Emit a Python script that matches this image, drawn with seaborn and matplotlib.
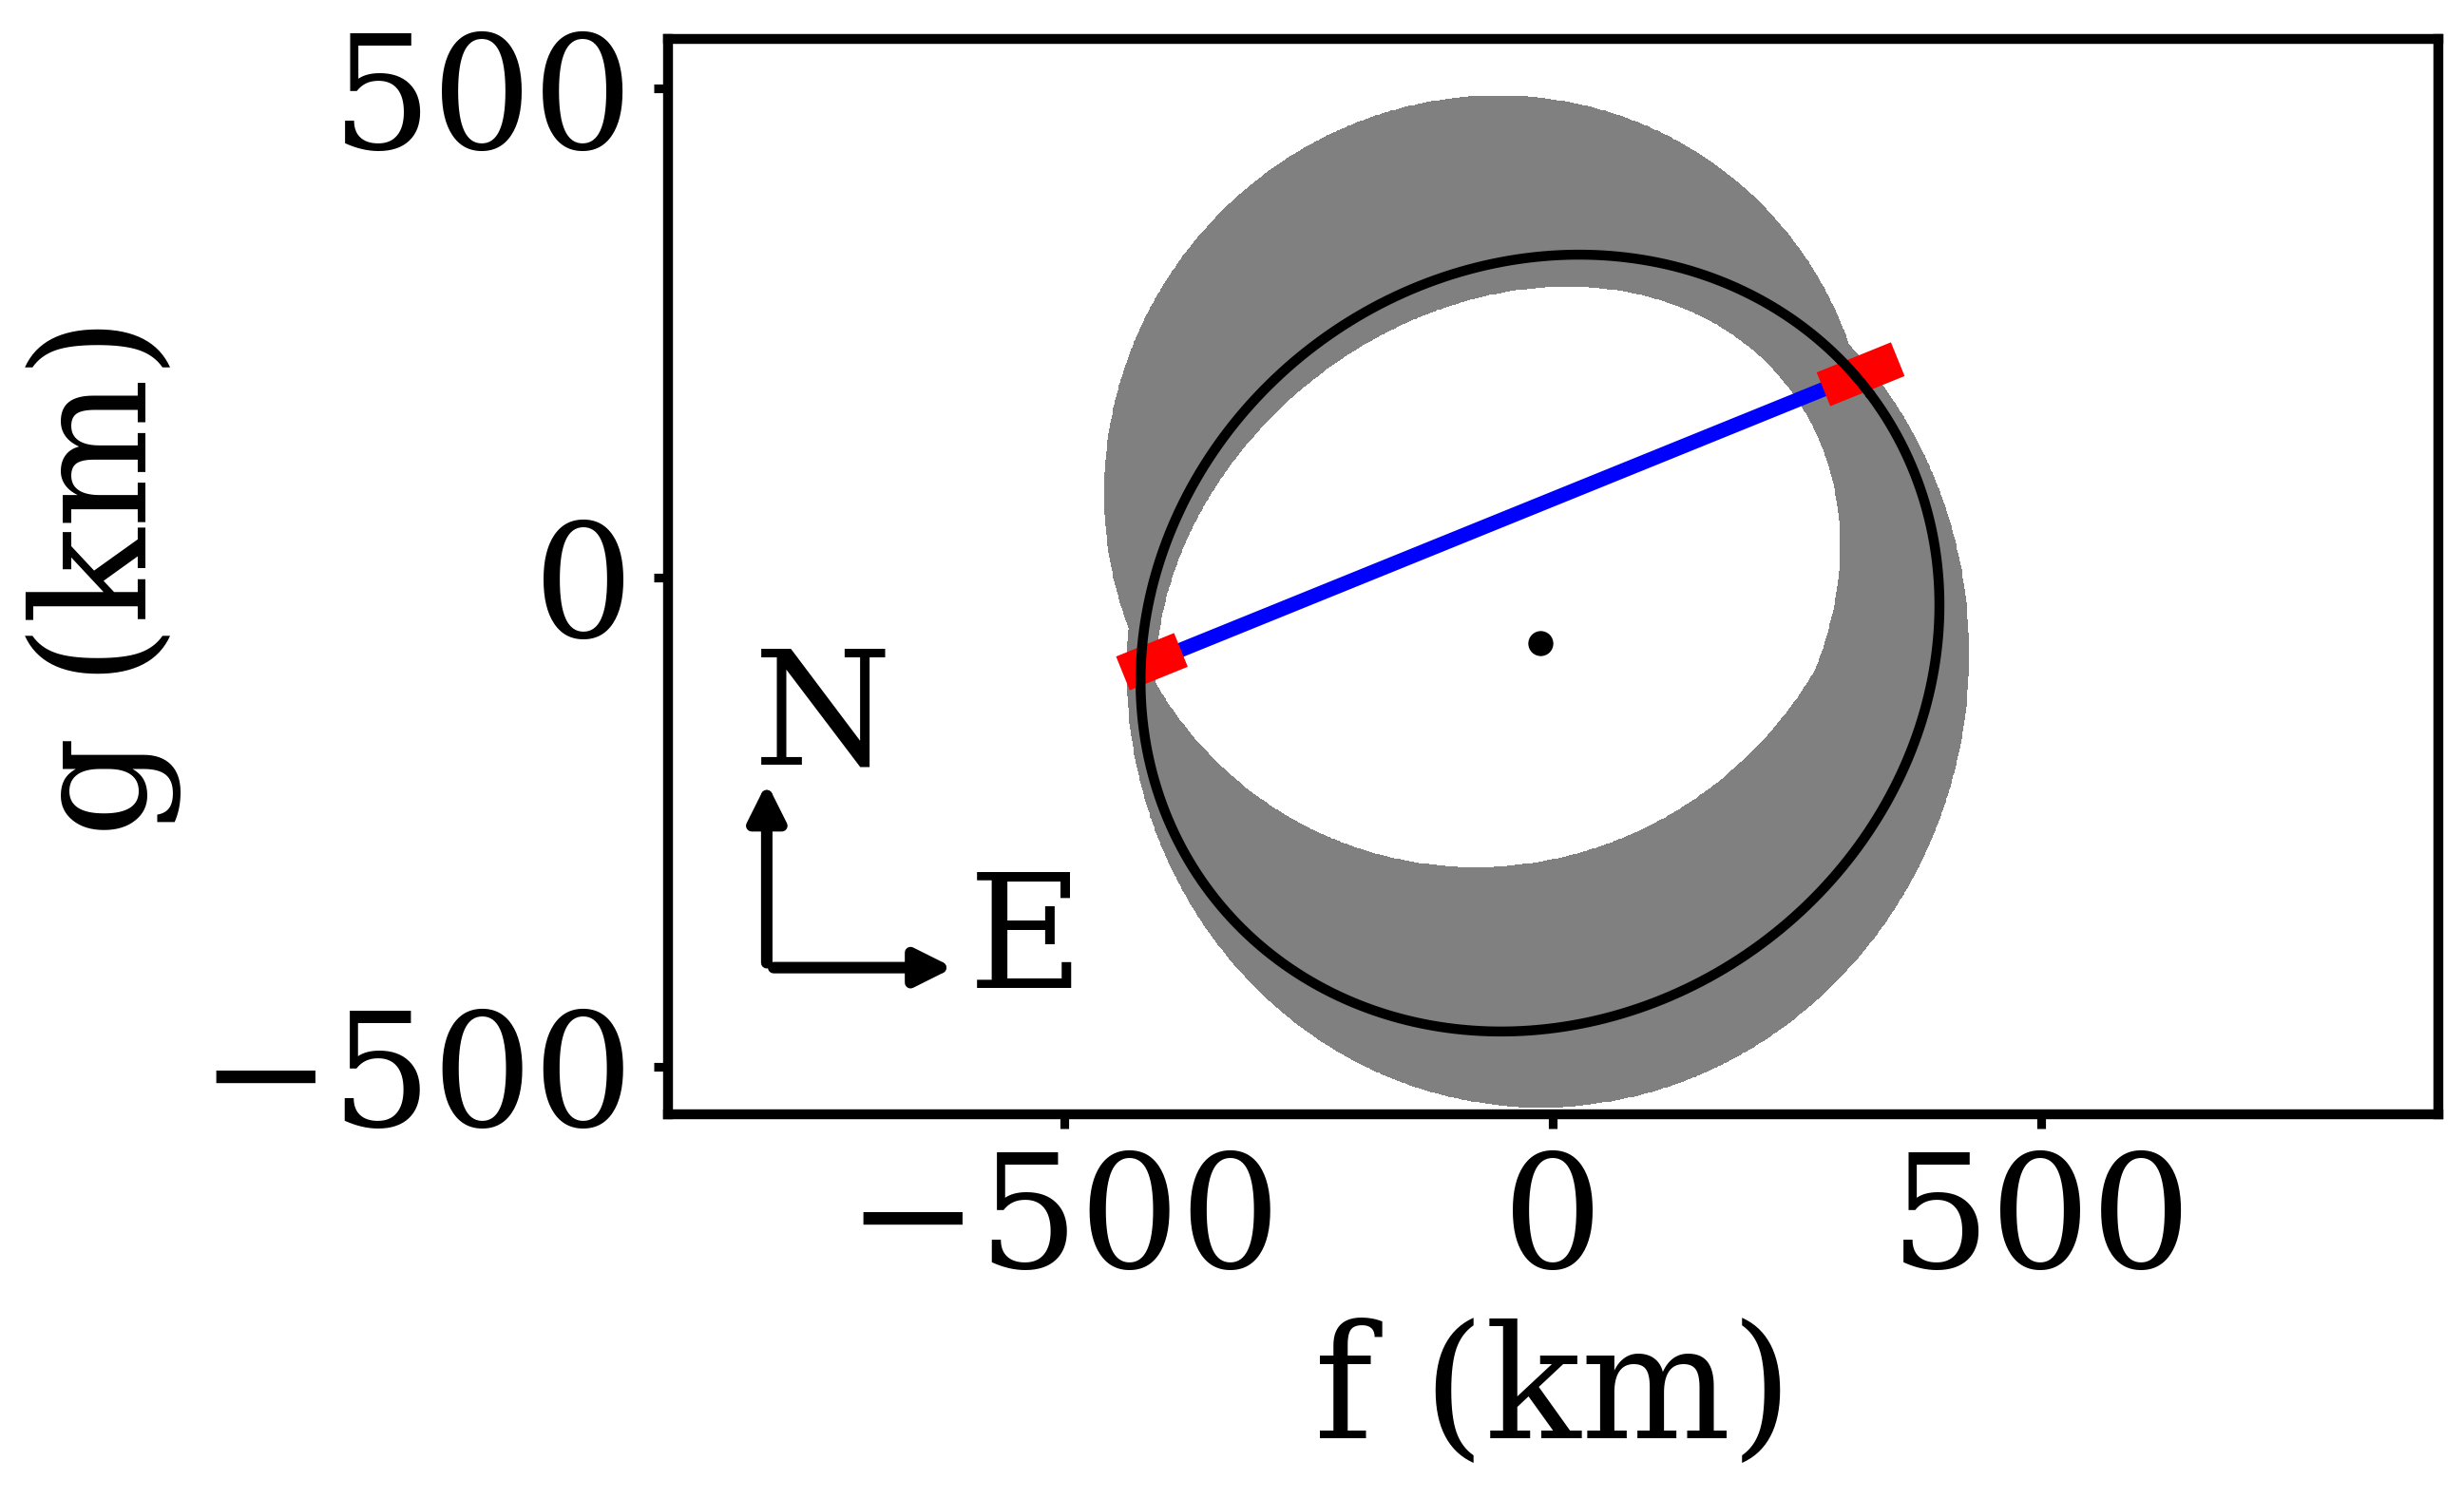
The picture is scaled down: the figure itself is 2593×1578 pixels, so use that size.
import numpy as np
import matplotlib
matplotlib.use('Agg')
import matplotlib.pyplot as plt
import seaborn as sns

# Best-fit ellipse (km), angle of major axis measured from the f axis (deg)
fit_f0 = -13
fit_g0 = -67
fit_a = 423
fit_b = 382
fit_angle = 37

# Accepted solutions (centre f, centre g, a, b, angle)
sol_f0 = [-67, -13, -5, -56]
sol_g0 = [98, -67, -86, -35]
sol_a = [399, 423, 456, 376]
sol_b = [387, 382, 430, 304]
sol_angle = [53, 37, 82, 38]

# Observed chord: immersion / emersion points and their errors along the chord (km)
chord_f = [-410, 315]
chord_g = [-86, 208]
chord_err = [32, 41]

ticks = [-500, 0, 500]


def ellipse_xy(f0, g0, a, b, ang, n=600):
    t = np.linspace(0, 2 * np.pi, n)
    th = np.radians(ang)
    x = f0 + a * np.cos(t) * np.cos(th) - b * np.sin(t) * np.sin(th)
    y = g0 + a * np.cos(t) * np.sin(th) + b * np.sin(t) * np.cos(th)
    return x, y


sns.set_style('ticks')
plt.rcParams['font.family'] = ['DejaVu Serif']
plt.rcParams['axes.edgecolor'] = 'black'
plt.rcParams['xtick.color'] = 'black'
plt.rcParams['ytick.color'] = 'black'
plt.rcParams['text.color'] = 'black'
plt.rcParams['axes.labelcolor'] = 'black'

fig = plt.figure(figsize=(2593 / 300, 1578 / 300), dpi=300)
ax = fig.add_axes([703 / 2593, 405 / 1578, 1863 / 2593, 1132 / 1578])

# grey band: union of the solutions minus their common interior
F, G = np.meshgrid(np.linspace(-905, 906, 2200), np.linspace(-549, 551, 1350))
count = np.zeros_like(F)
for f0, g0, a, b, ang in zip(sol_f0, sol_g0, sol_a, sol_b, sol_angle):
    th = np.radians(ang)
    u = (F - f0) * np.cos(th) + (G - g0) * np.sin(th)
    v = -(F - f0) * np.sin(th) + (G - g0) * np.cos(th)
    count += ((u / a) ** 2 + (v / b) ** 2 <= 1)
band = ((count > 0) & (count < len(sol_a))).astype(float)
ax.contourf(F, G, band, levels=[0.5, 1.5], colors=['#808080'], zorder=1)

# chord
sns.lineplot(x=chord_f, y=chord_g, color='blue', lw=3.7, sort=False,
             estimator=None, solid_capstyle='butt', ax=ax, zorder=3)
d = np.array([chord_f[1] - chord_f[0], chord_g[1] - chord_g[0]], float)
d /= np.hypot(*d)
for pf, pg, e in zip(chord_f, chord_g, chord_err):
    sns.lineplot(x=[pf - e * d[0], pf + e * d[0]], y=[pg - e * d[1], pg + e * d[1]],
                 color='red', lw=9.2, sort=False, estimator=None,
                 solid_capstyle='butt', ax=ax, zorder=4)

# best-fit ellipse and its centre
ex, ey = ellipse_xy(fit_f0, fit_g0, fit_a, fit_b, fit_angle)
sns.lineplot(x=ex, y=ey, color='black', lw=2.5, sort=False, estimator=None,
             ax=ax, zorder=5)
sns.scatterplot(x=[fit_f0], y=[fit_g0], color='black', s=40, linewidth=0,
                ax=ax, zorder=6)

# orientation arrows
arrow_kw = dict(arrowstyle='-|>', color='black', lw=2.9, mutation_scale=19,
                shrinkA=0, shrinkB=0, capstyle='round', joinstyle='round')
ax.annotate('', xy=(-804, -210), xytext=(-804, -394), arrowprops=arrow_kw)
ax.annotate('', xy=(-613, -399), xytext=(-797, -399), arrowprops=arrow_kw)
ax.text(-818, -191, 'N', fontsize=40, ha='left', va='baseline')
ax.text(-598, -420, 'E', fontsize=40, ha='left', va='baseline')

ax.set_xlim(-905, 906)
ax.set_ylim(-549, 551)
ax.set_xticks(ticks)
ax.set_yticks(ticks)
ax.tick_params(direction='out', length=3.6, width=2.2, labelsize=40, pad=5)
for sp in ax.spines.values():
    sp.set_linewidth(2.5)
    sp.set_visible(True)
ax.set_xlabel('f (km)', fontsize=40)
ax.set_ylabel('g (km)', fontsize=40)
ax.xaxis.set_label_coords(0.5, -0.19)
ax.yaxis.set_label_coords(-0.275, 0.5)

fig.savefig('out.png', dpi=300, facecolor='white')
